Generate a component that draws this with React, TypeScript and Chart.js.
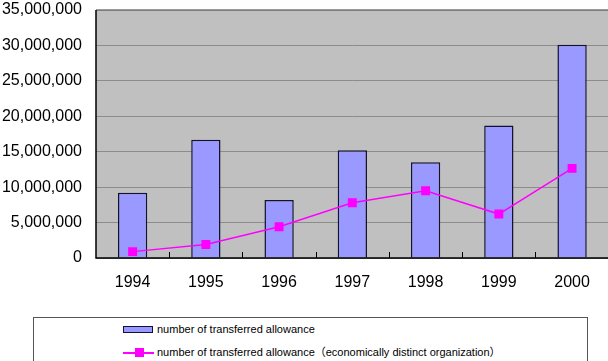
import React, { useEffect, useRef } from "react";
import { Chart, registerables } from "chart.js";

Chart.register(...registerables);

const categories = ["1994", "1995", "1996", "1997", "1998", "1999", "2000"];
const transferred = [9200000, 16700000, 8200000, 15200000, 13500000, 18700000, 30100000];
const transferredEDO = [900000, 1900000, 4400000, 7800000, 9500000, 6200000, 12650000];
const yTicksMax = 35000000;
const yTickStep = 5000000;
const legendLabels = [
  "number of transferred allowance",
  "number of transferred allowance（economically distinct organization）",
];

const plotDecor = {
  id: "plotDecor",
  beforeDatasetsDraw(chart: any) {
    const { ctx, chartArea } = chart;
    const { left, right, top } = chartArea;
    ctx.save();
    ctx.strokeStyle = "#7a7a7a";
    ctx.lineWidth = 1.5;
    ctx.beginPath();
    ctx.moveTo(left, top);
    ctx.lineTo(right, top);
    ctx.stroke();
    ctx.restore();
  },
  afterDatasetsDraw(chart: any) {
    const { ctx, chartArea, scales } = chart;
    const { left, right, top, bottom } = chartArea;
    const x = scales.x;
    ctx.save();
    ctx.strokeStyle = "#000";
    ctx.lineWidth = 1;
    const n = chart.data.labels.length;
    for (let i = 1; i < n; i++) {
      const px = Math.round((x.getPixelForValue(i - 1) + x.getPixelForValue(i)) / 2) + 0.5;
      ctx.beginPath();
      ctx.moveTo(px, bottom);
      ctx.lineTo(px, bottom - 6);
      ctx.stroke();
    }
    ctx.lineWidth = 1.5;
    ctx.beginPath();
    ctx.moveTo(left, top);
    ctx.lineTo(left, bottom);
    ctx.lineTo(right, bottom);
    ctx.stroke();
    ctx.restore();
  },
};

export default function App() {
  const ref = useRef<HTMLCanvasElement>(null);
  useEffect(() => {
    if (!ref.current) return;
    const chart = new Chart(ref.current, {
      type: "bar",
      data: {
        labels: categories,
        datasets: [
          {
            type: "line",
            label: legendLabels[1],
            data: transferredEDO,
            borderColor: "#ff00ff",
            backgroundColor: "#ff00ff",
            borderWidth: 1.5,
            pointStyle: "rect",
            pointRadius: 6.3,
            pointBackgroundColor: "#ff00ff",
            pointBorderColor: "#ff00ff",
            pointBorderWidth: 0,
            tension: 0,
            order: 0,
          } as any,
          {
            type: "bar",
            label: legendLabels[0],
            data: transferred,
            backgroundColor: "#9999ff",
            borderColor: "#111133",
            borderWidth: 1.5,
            barPercentage: 0.4,
            categoryPercentage: 1,
            order: 1,
          } as any,
        ],
      },
      options: {
        animation: false,
        responsive: false,
        maintainAspectRatio: false,
        layout: { padding: { top: 0, right: 0, left: 0, bottom: 0 } },
        plugins: { legend: { display: false }, tooltip: { enabled: false } },
        scales: {
          x: {
            offset: true,
            grid: { display: false, drawTicks: false },
            border: { display: false },
            ticks: { color: "#000", font: { family: "Liberation Sans", size: 16 }, padding: 15 },
            afterFit(scale: any) {
              scale.height = 42;
              scale.paddingRight = 0;
              scale.paddingLeft = 0;
            },
          },
          y: {
            min: 0,
            max: yTicksMax,
            grid: { color: "#8c8c8c", lineWidth: 1, drawTicks: false },
            border: { display: false },
            ticks: {
              stepSize: yTickStep,
              color: "#000",
              font: { family: "Liberation Sans", size: 16 },
              padding: 14,
              callback: (v: any) => Number(v).toLocaleString("en-US"),
            },
            afterFit(scale: any) {
              scale.width = 96;
              scale.paddingTop = 10;
              scale.paddingBottom = 0;
            },
          },
        },
      },
      plugins: [
        {
          id: "bg",
          beforeDraw(chart: any) {
            const { ctx, chartArea } = chart;
            ctx.save();
            ctx.fillStyle = "#c0c0c0";
            ctx.fillRect(chartArea.left, chartArea.top, chartArea.right - chartArea.left, chartArea.bottom - chartArea.top);
            ctx.restore();
          },
        },
        plotDecor,
      ],
    });
    return () => chart.destroy();
  }, []);

  const textStyle: React.CSSProperties = {
    position: "absolute",
    left: 157,
    fontFamily: "Liberation Sans, 'Noto Sans CJK JP', sans-serif",
    fontSize: 11,
    lineHeight: "12px",
    color: "#000",
    whiteSpace: "nowrap",
  };

  return (
    <div style={{ position: "fixed", left: 0, top: 0, width: 608, height: 361, background: "#fff", overflow: "hidden" }}>
      <canvas ref={ref} width={615} height={300} style={{ position: "absolute", left: 0, top: 0 }} />
      <div
        style={{
          position: "absolute",
          left: 33,
          top: 317,
          width: 555,
          height: 60,
          border: "1px solid #555",
          boxSizing: "border-box",
        }}
      />
      <div
        style={{
          position: "absolute",
          left: 123,
          top: 326,
          width: 28,
          height: 5,
          background: "#9999ff",
          border: "1.5px solid #111133",
        }}
      />
      <div style={{ ...textStyle, top: 323 }}>{legendLabels[0]}</div>
      <div style={{ position: "absolute", left: 123, top: 352, width: 31, height: 1.5, background: "#ff00ff" }} />
      <div style={{ position: "absolute", left: 135, top: 348, width: 9, height: 9, background: "#ff00ff" }} />
      <div style={{ ...textStyle, top: 346 }}>{legendLabels[1]}</div>
    </div>
  );
}
